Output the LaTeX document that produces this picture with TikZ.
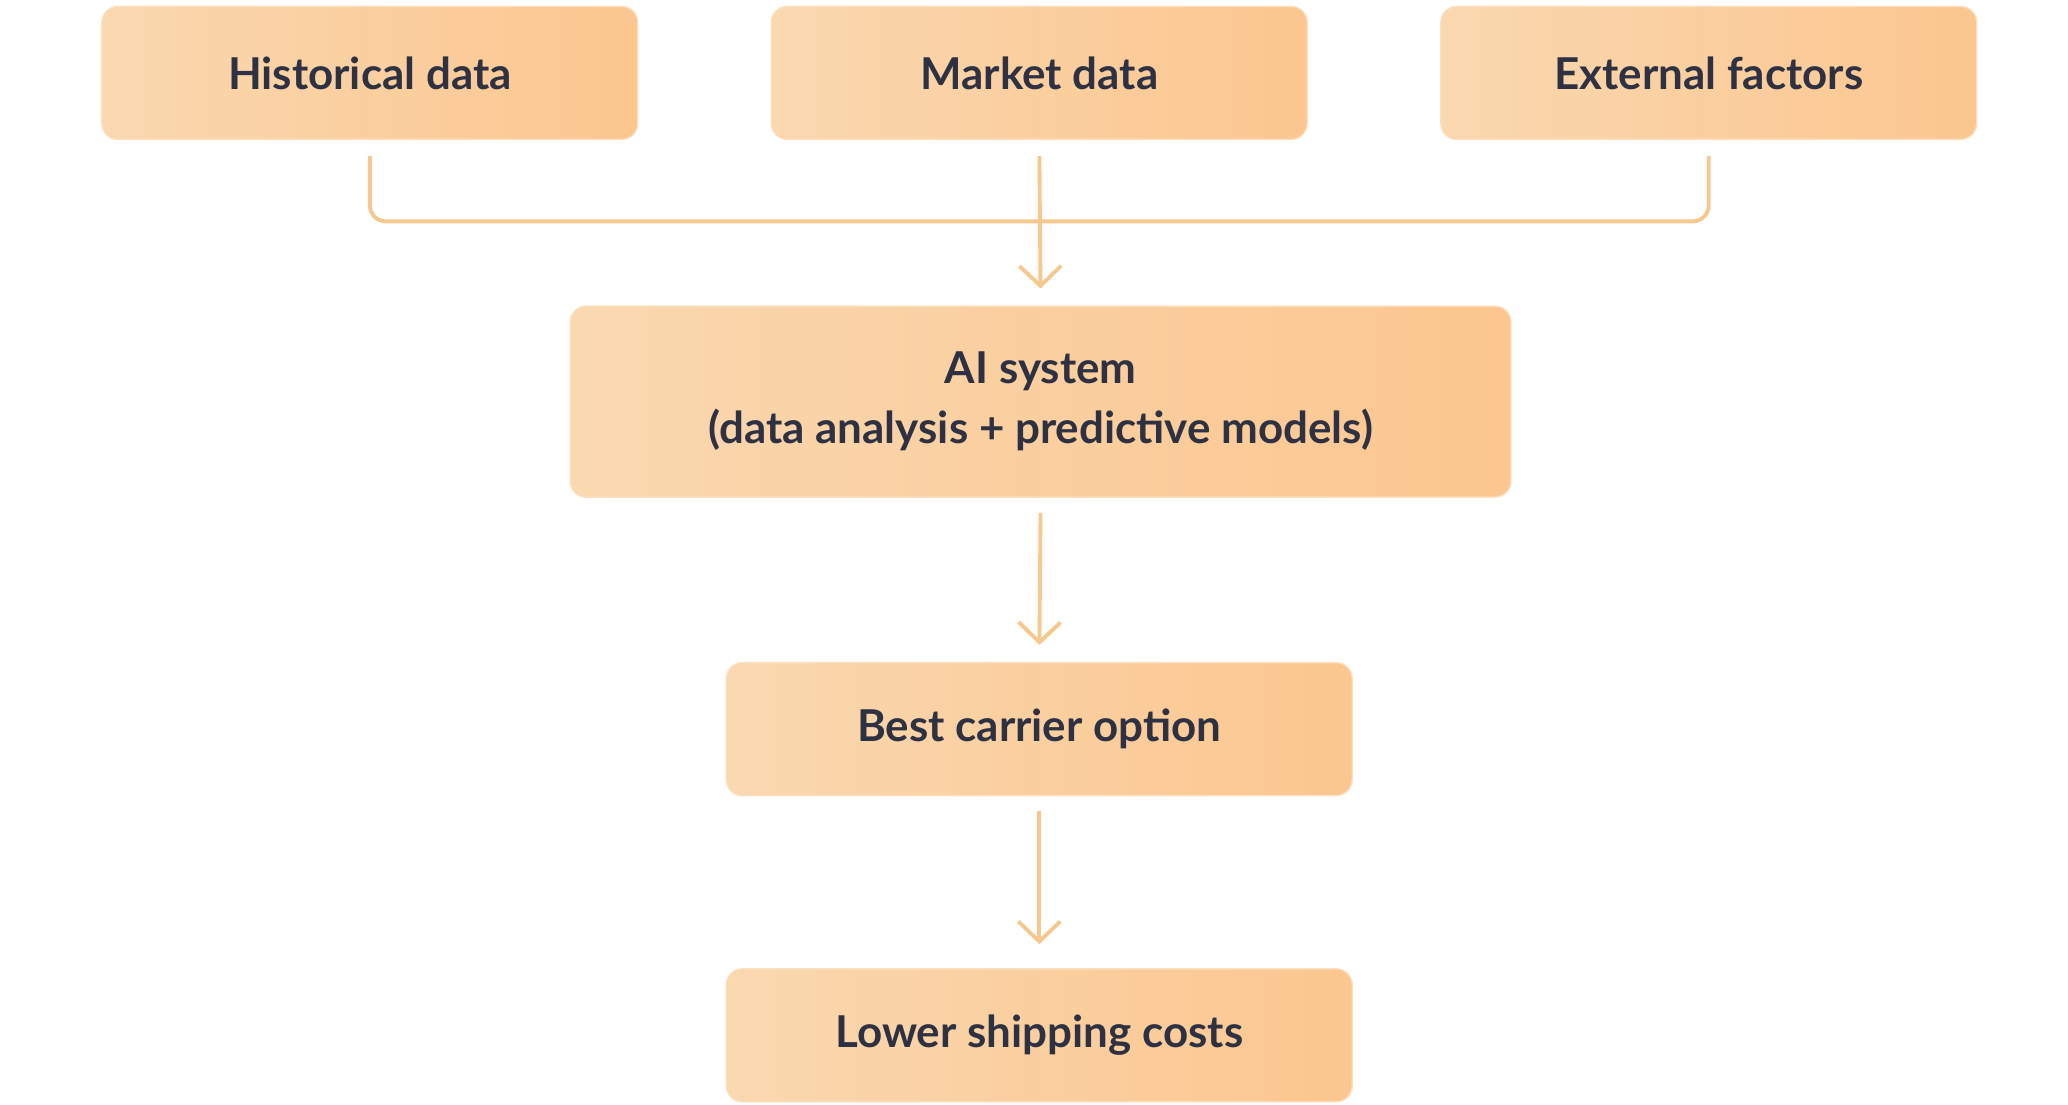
\documentclass[tikz,border=0pt]{standalone}
\usepackage{fontspec}
\setmainfont{Lato}
\usetikzlibrary{arrows.meta}
\definecolor{boxleft}{HTML}{FAD8B0}
\definecolor{boxright}{HTML}{FBC68F}
\definecolor{linkcolor}{HTML}{F7C88E}
\definecolor{textcolor}{HTML}{2E3142}
\begin{document}
\begin{tikzpicture}
			[x=0.013256cm,y=-0.013256cm,
			%Styles
			box/.style={rounded corners=0.16cm,left color=boxleft,right color=boxright,
				draw=boxleft!80!white,line width=0.4pt,text=textcolor,align=center,
				font=\fontsize{12.5}{17}\selectfont\bfseries,
				minimum width=5.36cm,minimum height=1.33cm},
			link/.style={draw=linkcolor,line width=1.1pt},
			arrow/.style={link,-{Straight Barb[length=0.2cm,width=0.42cm]}}
			]
			
			\useasboundingbox (0,0) rectangle (1560,833);
			
			%The graphic
			\node[box] (hist) at (279,55) {Historical data};
			\node[box] (mkt) at (784,55) {Market data};
			\node[box] (ext) at (1289,55) {External factors};
			\node[box,minimum width=9.41cm,minimum height=1.91cm] (ai) at (785,303)
				{AI system\\(data analysis + predictive models)};
			\node[box,minimum width=6.26cm] (best) at (784,550) {Best carrier option};
			\node[box,minimum width=6.26cm] (low) at (784,781) {Lower shipping costs};
			
			\coordinate (join) at (784,167);
			\draw[link,rounded corners=0.16cm,shorten <=0.16cm] (hist.south) |- (join);
			\draw[link,rounded corners=0.16cm,shorten <=0.16cm] (ext.south) |- (join);
			
			\draw[arrow,shorten <=0.16cm,shorten >=0.17cm] (mkt.south) -- (ai.north);
			\draw[arrow,shorten <=0.15cm,shorten >=0.17cm] (ai.south) -- (best.north);
			\draw[arrow,shorten <=0.15cm,shorten >=0.24cm] (best.south) -- (low.north);
		\end{tikzpicture}
\end{document}
